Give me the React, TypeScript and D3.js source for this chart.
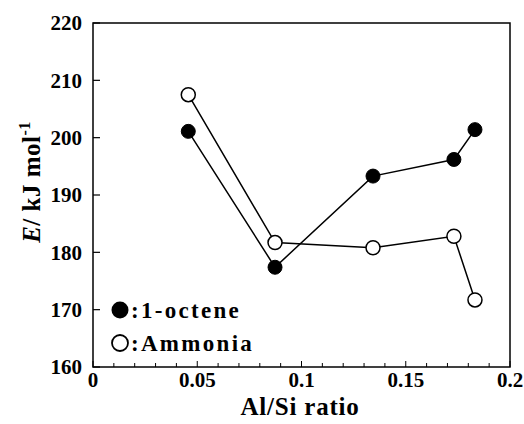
import React from "react";
import * as d3 from "d3";

const xValues = [0.0457, 0.0873, 0.1343, 0.1731, 0.1832];
const octene = [201.1, 177.4, 193.3, 196.2, 201.4];
const ammonia = [207.5, 181.7, 180.8, 182.8, 171.7];
const xTicks = [0, 0.05, 0.1, 0.15, 0.2];
const xTickLabels = ["0", "0.05", "0.1", "0.15", "0.2"];
const yTicks = [160, 170, 180, 190, 200, 210, 220];
const legendLabels = [":1-octene", ":Ammonia"];

const W = 524, H = 424;
const L = 93, R = 510, T = 23, B = 367;
const FONT = "'Liberation Serif', 'Times New Roman', serif";

export default function App() {
  const x = d3.scaleLinear().domain([0, 0.2]).range([L, R]);
  const y = d3.scaleLinear().domain([160, 220]).range([B, T]);
  const line = d3.line<number>().x((_, i) => x(xValues[i])).y((d) => y(d));
  const minor = d3.range(0, 21).map((i) => i * 0.01);

  return (
    <svg width={W} height={H} style={{ position: "absolute", left: 0, top: 0, background: "#fff" }} fontFamily={FONT}>
      <rect x={L} y={T} width={R - L} height={B - T} fill="none" stroke="#000" strokeWidth={1.5} />
      {minor.map((v, i) => (
        <line key={"mx" + i} x1={x(v)} x2={x(v)} y1={B} y2={B - (i % 5 === 0 ? 6 : 4)} stroke="#000" strokeWidth={1} />
      ))}
      {yTicks.map((v) => (
        <line key={"yt" + v} x1={L} x2={L + 7} y1={y(v)} y2={y(v)} stroke="#000" strokeWidth={1.2} />
      ))}
      {yTicks.map((v) => (
        <text key={"yl" + v} x={L - 11} y={y(v)} dy="0.35em" textAnchor="end" fontSize={21} fontWeight="bold">{v}</text>
      ))}
      {xTicks.map((v, i) => (
        <text key={"xl" + v} x={x(v)} y={387} textAnchor="middle" fontSize={21} fontWeight="bold">{xTickLabels[i]}</text>
      ))}
      <text x={300} y={415} textAnchor="middle" fontSize={25} fontWeight="bold" letterSpacing={0.8}>Al/Si ratio</text>
      <text transform="translate(40,182) rotate(-90)" textAnchor="middle" fontSize={25} fontWeight="bold" letterSpacing={0.5}>
        <tspan fontStyle="italic">E</tspan>
        <tspan>/ kJ mol</tspan>
        <tspan dy={-10} fontSize={16}>-1</tspan>
      </text>
      <path d={line(ammonia) || ""} fill="none" stroke="#000" strokeWidth={1.5} />
      <path d={line(octene) || ""} fill="none" stroke="#000" strokeWidth={1.5} />
      {ammonia.map((v, i) => (
        <circle key={"a" + i} cx={x(xValues[i])} cy={y(v)} r={7} fill="#fff" stroke="#000" strokeWidth={1.5} />
      ))}
      {octene.map((v, i) => (
        <circle key={"o" + i} cx={x(xValues[i])} cy={y(v)} r={7} fill="#000" stroke="#000" strokeWidth={1} />
      ))}
      <circle cx={120} cy={310} r={8.5} fill="#000" />
      <circle cx={120} cy={343} r={8} fill="#fff" stroke="#000" strokeWidth={1.8} />
      <text x={131} y={318} fontSize={23} fontWeight="bold" letterSpacing={2.3}>{legendLabels[0]}</text>
      <text x={131} y={351} fontSize={23} fontWeight="bold" letterSpacing={2.3}>{legendLabels[1]}</text>
    </svg>
  );
}
